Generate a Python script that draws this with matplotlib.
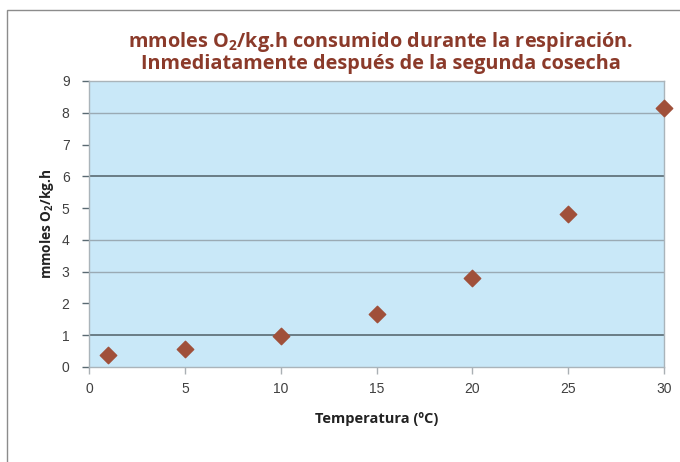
import matplotlib
matplotlib.use("Agg")
import matplotlib.pyplot as plt
from matplotlib.patches import Rectangle

# Data
temperatura = [1, 5, 10, 15, 20, 25, 30]
consumo = [0.38, 0.57, 0.97, 1.67, 2.80, 4.80, 8.14]
x_ticks = [0, 5, 10, 15, 20, 25, 30]
y_ticks = [0, 1, 2, 3, 4, 5, 6, 7, 8, 9]
grid_light = [3, 4, 8]
grid_dark = [1, 6]

plt.rcParams['mathtext.fontset'] = 'custom'
plt.rcParams['mathtext.rm'] = 'Open Sans:bold'
plt.rcParams['mathtext.bf'] = 'Open Sans:bold'

fig = plt.figure(figsize=(6.8, 4.62), dpi=100)
fig.patch.set_facecolor('white')

# outer chart frame
fig.patches.append(Rectangle((7/680, -0.05), 1.0, (462-10)/462 + 0.05,
                             transform=fig.transFigure, fill=False,
                             edgecolor='#8c8c8c', linewidth=1.0))

ax = fig.add_axes([89/680, (462-367)/462, (664-89)/680, (367-81)/462])
ax.set_facecolor('#c9e8f8')
ax.set_xlim(0, 30)
ax.set_ylim(0, 9)

for y in grid_light:
    ax.axhline(y, color='#9aaab4', linewidth=1.0, zorder=1)
for y in grid_dark:
    ax.axhline(y, color='#5a6a72', linewidth=1.2, zorder=1)

ax.scatter(temperatura, consumo, marker='D', s=70, color='#a0503a',
           edgecolors='#a0503a', zorder=3, clip_on=False)

ax.set_xticks(x_ticks)
ax.set_yticks(y_ticks)
ax.tick_params(axis='both', labelsize=10, colors='#404040', length=5,
               width=1, direction='out')
ax.tick_params(axis='x', pad=6, color='#aab0b4')
ax.tick_params(axis='y', pad=9, color='#5a6a72')
for lab in ax.get_xticklabels() + ax.get_yticklabels():
    lab.set_family('Liberation Sans')

for side in ['top', 'right', 'left', 'bottom']:
    ax.spines[side].set_color('#aab4ba')
    ax.spines[side].set_linewidth(1.0)

ax.set_xlabel('Temperatura (ºC)', fontsize=10.5, fontweight='bold',
              family='Open Sans', color='#222222', labelpad=11)
ax.set_ylabel(r'mmoles O$\mathrm{_2}$/kg.h', fontsize=9.8, fontweight='bold',
              family='Open Sans', color='#222222', labelpad=4)

fig.text(381/680, 1 - 42/462, r'mmoles O$\mathrm{_2}$/kg.h consumido durante la respiración.',
         ha='center', va='center', fontsize=14.3, fontweight='bold',
         family='Open Sans', color='#8b3a2a')
fig.text(381/680, 1 - 64/462, 'Inmediatamente después de la segunda cosecha',
         ha='center', va='center', fontsize=14.3, fontweight='bold',
         family='Open Sans', color='#8b3a2a')

fig.savefig('out.png', dpi=100)
